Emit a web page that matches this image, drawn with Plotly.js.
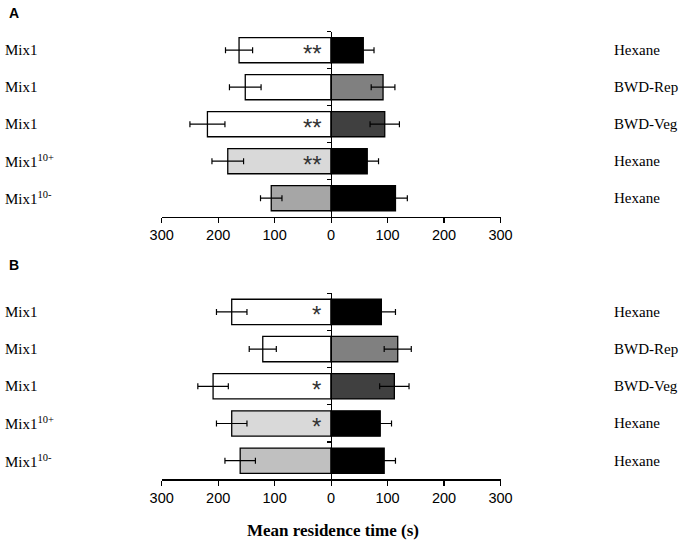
<!DOCTYPE html>
<html>
<head>
<meta charset="utf-8">
<script src="https://cdn.plot.ly/plotly-3.0.1.min.js"></script>
<style>html,body{margin:0;padding:0;background:#fff;}#chart{width:686px;height:553px;}</style>
</head>
<body>
<div id="chart"></div>
<script>
// ---- data ----
const leftLabels = ['Mix1', 'Mix1', 'Mix1', 'Mix1<sup>10+</sup>', 'Mix1<sup>10-</sup>'];
const rightLabels = ['Hexane', 'BWD-Rep', 'BWD-Veg', 'Hexane', 'Hexane'];
const cats = [0, 1, 2, 3, 4];

const aLeft = [163, 152, 219, 183, 106];
const aLeftErr = [24, 28, 31, 28, 19];
const aRight = [57, 92, 95, 64, 114];
const aRightErr = [19, 21, 26, 20, 21];
const aSig = ['**', '', '**', '**', ''];

const bLeft = [176, 121, 209, 176, 161];
const bLeftErr = [27, 24, 27, 27, 27];
const bRight = [89, 118, 112, 87, 94];
const bRightErr = [25, 24, 26, 20, 20];
const bSig = ['*', '', '*', '*', ''];

const aLeftColors = ['#ffffff', '#ffffff', '#ffffff', '#d9d9d9', '#a6a6a6'];
const bLeftColors = ['#ffffff', '#ffffff', '#ffffff', '#d9d9d9', '#c0c0c0'];
const rightColors = ['#000000', '#808080', '#404040', '#000000', '#000000'];

const xTickVals = [-300, -200, -100, 0, 100, 200, 300];
const xTickText = ['300', '200', '100', '0', '100', '200', '300'];
const yTickVals = [-0.5, 0.5, 1.5, 2.5, 3.5];

// ---- build ----
const xDom = [0.2357, 0.7296];
const yDomA = [0.6082, 0.9427];
const yDomB = [0.1333, 0.4696];
const yPos = (xDom[0] + xDom[1]) / 2;

function barTrace(vals, errs, colors, sign, xa, ya) {
  return {
    type: 'bar', orientation: 'h',
    x: vals.map(v => sign * v), y: cats,
    xaxis: xa, yaxis: ya, width: 0.68,
    marker: {color: colors, line: {color: '#000', width: 1.3}},
    error_x: {type: 'data', array: errs, visible: true, color: '#000', thickness: 1.2, width: 3},
    hoverinfo: 'skip', showlegend: false
  };
}

const data = [
  barTrace(aLeft, aLeftErr, aLeftColors, -1, 'x', 'y'),
  barTrace(aRight, aRightErr, rightColors, 1, 'x', 'y'),
  barTrace(bLeft, bLeftErr, bLeftColors, -1, 'x2', 'y2'),
  barTrace(bRight, bRightErr, rightColors, 1, 'x2', 'y2')
];

function xAxis(anchor) {
  return {
    domain: xDom, anchor: anchor, range: [-300, 300],
    tickmode: 'array', tickvals: xTickVals, ticktext: xTickText,
    ticks: 'outside', ticklen: 5, tickwidth: 1.2, tickcolor: '#000',
    showline: true, linecolor: '#000', linewidth: 1.3,
    showgrid: false, zeroline: false, fixedrange: true,
    tickfont: {family: 'Arial, Liberation Sans, sans-serif', size: 14.5, color: '#000'}
  };
}
function yAxis(dom) {
  return {
    domain: dom, anchor: 'free', position: yPos, range: [4.5, -0.5],
    tickmode: 'array', tickvals: yTickVals, showticklabels: false,
    ticks: 'outside', ticklen: 4, tickwidth: 1.2, tickcolor: '#000',
    showline: true, linecolor: '#000', linewidth: 1.3,
    showgrid: false, zeroline: false, fixedrange: true
  };
}

const annotations = [];
const serif = 'Times New Roman, Liberation Serif, serif';
function addLabels(ya, sig) {
  cats.forEach((c, i) => {
    annotations.push({xref: 'paper', yref: ya, x: 3 / 686, y: c, text: leftLabels[i], showarrow: false,
      xanchor: 'left', yanchor: 'middle', font: {family: serif, size: 15, color: '#000'}});
    annotations.push({xref: 'paper', yref: ya, x: 612 / 686, y: c, text: rightLabels[i], showarrow: false,
      xanchor: 'left', yanchor: 'middle', font: {family: serif, size: 15, color: '#000'}});
    if (sig[i]) {
      annotations.push({xref: ya === 'y' ? 'x' : 'x2', yref: ya, x: sig[i].length === 2 ? -33 : -25, y: c,
        text: sig[i], showarrow: false, xanchor: 'center', yanchor: 'middle', yshift: -3,
        font: {family: 'Arial, Liberation Sans, sans-serif', size: 24, color: '#333'}});
    }
  });
}
addLabels('y', aSig);
addLabels('y2', bSig);

annotations.push({xref: 'paper', yref: 'paper', x: 7 / 686, y: 1 - 13.3 / 553, text: '<b>A</b>', showarrow: false,
  xanchor: 'left', yanchor: 'middle', font: {family: 'Arial, Liberation Sans, sans-serif', size: 14, color: '#000'}});
annotations.push({xref: 'paper', yref: 'paper', x: 7 / 686, y: 1 - 265 / 553, text: '<b>B</b>', showarrow: false,
  xanchor: 'left', yanchor: 'middle', font: {family: 'Arial, Liberation Sans, sans-serif', size: 14, color: '#000'}});
annotations.push({xref: 'paper', yref: 'paper', x: 333 / 686, y: 1 - 530 / 553, text: '<b>Mean residence time (s)</b>', showarrow: false,
  xanchor: 'center', yanchor: 'middle', font: {family: serif, size: 17, color: '#000'}});

const layout = {
  width: 686, height: 553,
  margin: {l: 0, r: 0, t: 0, b: 0},
  paper_bgcolor: '#fff', plot_bgcolor: 'rgba(0,0,0,0)',
  barmode: 'overlay', showlegend: false,
  xaxis: xAxis('y'), yaxis: yAxis(yDomA),
  xaxis2: xAxis('y2'), yaxis2: yAxis(yDomB),
  annotations: annotations
};

Plotly.newPlot('chart', data, layout, {displayModeBar: false, staticPlot: true});
</script>
</body>
</html>
